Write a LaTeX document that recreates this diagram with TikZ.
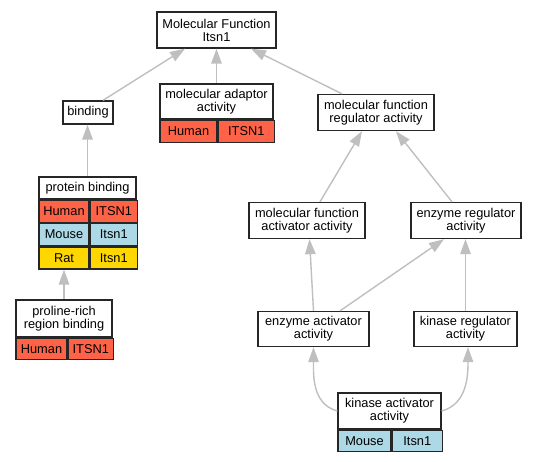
\documentclass[tikz,border=0pt]{standalone}
\usepackage{fontspec}
\setmainfont{Liberation Sans}
\usetikzlibrary{arrows.meta}

\definecolor{humanred}{HTML}{FF6347}
\definecolor{mouseblue}{HTML}{ADD8E6}
\definecolor{ratgold}{HTML}{FFD700}

\begin{document}
\begin{tikzpicture}[
                x = 1pt, y = -1pt,
                font = \fontsize{12.8}{13}\selectfont,
                term/.style={ rectangle, draw = black!85, line width = 1.3pt, fill = white, align = center, inner sep = 0pt, minimum height = 36pt },
                cell/.style={ rectangle, draw = black!85, line width = 1.3pt, inner sep = 0pt, minimum height = 22pt, anchor = north west },
                human/.style={ cell, fill = humanred },
                mouse/.style={ cell, fill = mouseblue },
                rat/.style={ cell, fill = ratgold },
                isa/.style={ draw = black!25, line width = 1.4pt, -{Triangle[length=15pt, width=10.5pt]} }
            ]
            \useasboundingbox (0, 0) rectangle (536, 461);

            \node (mf)     [term, minimum width = 119pt] at (216.5, 30) {Molecular Function\\Itsn1};
            \node (bind)   [term, minimum width = 50pt, minimum height = 23pt] at (88, 112.5) {binding};
            \node (adapt)  [term, minimum width = 113pt, minimum height = 35pt] at (216.5, 101.5) {molecular adaptor\\activity};
            \node (adaptH) [human, minimum width = 57pt] at (adapt.south west) {Human};
            \node (adaptG) [human, minimum width = 56pt] at (adaptH.north east) {ITSN1};
            \node (mfreg)  [term, minimum width = 116pt] at (376, 112.5) {molecular function\\regulator activity};

            \node (pbind)  [term, minimum width = 97pt, minimum height = 22pt] at (87.5, 188) {protein binding};
            \node (pbH)    [human, minimum width = 50pt] at (pbind.south west) {Human};
            \node (pbHG)   [human, minimum width = 47pt] at (pbH.north east) {ITSN1};
            \node (pbM)    [mouse, minimum width = 50pt] at (pbH.south west) {Mouse};
            \node (pbMG)   [mouse, minimum width = 47pt] at (pbM.north east) {Itsn1};
            \node (pbR)    [rat, minimum width = 50pt] at (pbM.south west) {Rat};
            \node (pbRG)   [rat, minimum width = 47pt] at (pbR.north east) {Itsn1};

            \node (prol)   [term, minimum width = 96pt, minimum height = 37pt] at (64, 318.5) {proline-rich\\region binding};
            \node (prolH)  [human, minimum width = 51pt, minimum height = 21pt] at (prol.south west) {Human};
            \node (prolG)  [human, minimum width = 45pt, minimum height = 21pt] at (prolH.north east) {ITSN1};

            \node (mfact)  [term, minimum width = 116pt] at (307, 220.5) {molecular function\\activator activity};
            \node (ereg)   [term, minimum width = 110pt] at (466, 220.5) {enzyme regulator\\activity};
            \node (eact)   [term, minimum width = 111pt, minimum height = 35pt] at (313.5, 329) {enzyme activator\\activity};
            \node (kreg)   [term, minimum width = 103pt, minimum height = 35pt] at (465.5, 329) {kinase regulator\\activity};
            \node (kact)   [term, minimum width = 103pt] at (389.5, 411) {kinase activator\\activity};
            \node (kactM)  [mouse, minimum width = 53pt, minimum height = 21pt] at (kact.south west) {Mouse};
            \node (kactG)  [mouse, minimum width = 50pt, minimum height = 21pt] at (kactM.north east) {Itsn1};

            % is_a edges, child to parent
            \draw [isa] ([xshift=15pt]bind.north)    -- ([xshift=-31.5pt]mf.south);
            \draw [isa] (adapt.north)                -- (mf.south);
            \draw [isa] ([xshift=-34pt]mfreg.north)  -- ([xshift=34.5pt]mf.south);
            \draw [isa] (pbind.north)                -- (pbind.north |- bind.south);
            \draw [isa] (prol.north)                 -- (prol.north |- pbR.south);
            \draw [isa] ([xshift=13pt]mfact.north)   -- ([xshift=-14pt]mfreg.south);
            \draw [isa] ([xshift=-14pt]ereg.north)   -- ([xshift=20pt]mfreg.south);
            \draw [isa] (eact.north)                 -- ([xshift=2.5pt]mfact.south);
            \draw [isa] ([xshift=26.5pt]eact.north)  -- ([xshift=-22pt]ereg.south);
            \draw [isa] (kreg.north)                 -- (kreg.north |- ereg.south);
            \draw [isa] (kact.west)  to[out=165, in=-90] (eact.south);
            \draw [isa] (kact.east)  to[out=15, in=-90]  ([xshift=2.5pt]kreg.south);
        \end{tikzpicture}
\end{document}
